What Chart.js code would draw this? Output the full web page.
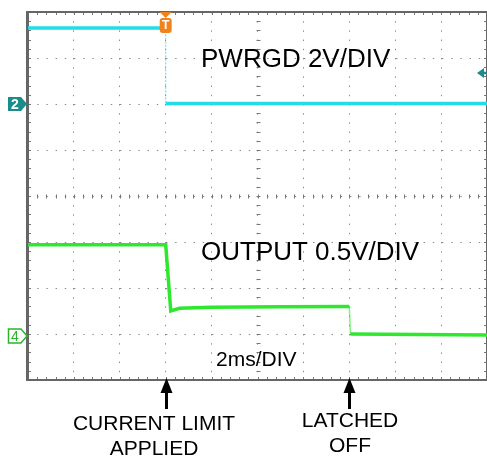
<!DOCTYPE html>
<html><head><meta charset="utf-8">
<script src="https://cdn.jsdelivr.net/npm/chart.js@4/dist/chart.umd.min.js"></script>
<style>html,body{margin:0;padding:0;background:#fff;overflow:hidden}#wrap{width:487px;height:456px;position:relative}</style>
</head><body><div id="wrap"><canvas id="c" width="487" height="456"></canvas></div>
<script>
// time axis: ms relative to trigger, 2 ms/DIV
const timeTicks = [-6, -4, -2, 0, 2, 4, 6, 8, 10, 12, 14];
// PWRGD channel (2 V/DIV), ground marker at division 6 from bottom
const pwrgdTime  = [-6, 0, 0, 14];
const pwrgdVolts = [3.3, 3.3, 0.02, 0.02];
// OUTPUT channel (0.5 V/DIV), ground marker at division 1 from bottom
const outputTime  = [-6, 0, 0.22, 0.6, 2, 5, 8, 8.05, 14];
const outputVolts = [0.97, 0.97, 0.25, 0.28, 0.29, 0.295, 0.30, 0.0, -0.01];
const pwrgdRange  = [-12, 4];
const outputRange = [-0.5, 3.5];
const labels = {pwrgd: 'PWRGD 2V/DIV', output: 'OUTPUT 0.5V/DIV', timebase: '2ms/DIV',
  limit: ['CURRENT LIMIT', 'APPLIED'], latched: ['LATCHED', 'OFF']};
const eventTimes = [0, 8];

const FONT = '"Liberation Sans", Arial, sans-serif';
const toPts = (xs, ys) => xs.map((x, i) => ({x, y: ys[i]}));

const scopePlugin = {
  id: 'scope',
  beforeDatasetsDraw(chart) {
    const {ctx, chartArea: a} = chart;
    const w = a.right - a.left, h = a.bottom - a.top;
    const dx = w / 50, dy = h / 40;
    ctx.save();
    ctx.strokeStyle = '#777';
    ctx.lineWidth = 1;
    ctx.beginPath();
    for (let i = 1; i < 50; i++) {
      const x = Math.round(a.left + i * dx) + 0.5;
      ctx.moveTo(x, a.top); ctx.lineTo(x, a.top + 3);
      ctx.moveTo(x, a.bottom); ctx.lineTo(x, a.bottom - 3);
    }
    for (let i = 1; i < 40; i++) {
      const y = Math.round(a.top + i * dy) + 0.5;
      ctx.moveTo(a.left, y); ctx.lineTo(a.left + 3, y);
      ctx.moveTo(a.right, y); ctx.lineTo(a.right - 3, y);
    }
    const cx = Math.round(a.left + w / 2) + 0.5, cy = Math.round(a.top + h / 2) + 0.5;
    for (let i = 1; i < 50; i++) {
      const x = Math.round(a.left + i * dx) + 0.5;
      ctx.moveTo(x, cy - 2); ctx.lineTo(x, cy + 2);
    }
    for (let i = 1; i < 40; i++) {
      const y = Math.round(a.top + i * dy) + 0.5;
      ctx.moveTo(cx - 2, y); ctx.lineTo(cx + 2, y);
    }
    ctx.stroke();
    ctx.strokeStyle = '#666';
    ctx.lineWidth = 2;
    ctx.strokeRect(a.left, a.top, w, h);
    ctx.lineWidth = 3;
    ctx.beginPath(); ctx.moveTo(a.left - 0.5, a.top - 1); ctx.lineTo(a.left - 0.5, a.bottom + 1); ctx.stroke();
    ctx.restore();
  },
  afterDraw(chart) {
    const {ctx, chartArea: a, scales} = chart;
    const x = scales.x;
    ctx.save();
    ctx.fillStyle = '#000';
    ctx.textBaseline = 'alphabetic';
    ctx.textAlign = 'left';
    ctx.font = '26px ' + FONT;
    ctx.fillText(labels.pwrgd, 201, 67);
    ctx.fillText(labels.output, 201, 260);
    ctx.font = '21px ' + FONT;
    ctx.fillText(labels.timebase, 216, 366);
    ctx.font = '21px ' + FONT;
    ctx.textAlign = 'center';
    const caps = [labels.limit, labels.latched];
    const capY = [[430, 455], [427, 452]];
    const capX = [154, 350];
    eventTimes.forEach((t, i) => {
      const px = Math.round(x.getPixelForValue(t)) + 0.5;
      ctx.strokeStyle = '#000'; ctx.lineWidth = 3;
      ctx.beginPath(); ctx.moveTo(px, 390); ctx.lineTo(px, 409); ctx.stroke();
      ctx.beginPath(); ctx.moveTo(px, 378); ctx.lineTo(px - 6, 393); ctx.lineTo(px + 6, 393); ctx.closePath();
      ctx.fillStyle = '#000'; ctx.fill();
      ctx.fillText(caps[i][0], capX[i], capY[i][0]);
      ctx.fillText(caps[i][1], capX[i], capY[i][1]);
    });
    // channel 2 marker (filled teal)
    const y2 = Math.round(scales.yP.getPixelForValue(0));
    ctx.fillStyle = '#1b8c8c';
    ctx.beginPath();
    ctx.moveTo(8, y2 - 7); ctx.lineTo(21, y2 - 7); ctx.lineTo(27, y2); ctx.lineTo(21, y2 + 7); ctx.lineTo(8, y2 + 7); ctx.closePath();
    ctx.fill();
    ctx.fillStyle = '#fff'; ctx.font = 'bold 14px ' + FONT; ctx.textAlign = 'center'; ctx.textBaseline = 'middle';
    ctx.fillText('2', 15, y2 + 1);
    // channel 4 marker (outlined green)
    const y4 = Math.round(scales.yO.getPixelForValue(0)) + 2;
    ctx.strokeStyle = '#2bb52b'; ctx.lineWidth = 1.5;
    ctx.beginPath();
    ctx.moveTo(8.5, y4 - 7); ctx.lineTo(21, y4 - 7); ctx.lineTo(27, y4); ctx.lineTo(21, y4 + 7); ctx.lineTo(8.5, y4 + 7); ctx.closePath();
    ctx.stroke();
    ctx.fillStyle = '#2bb52b'; ctx.font = '14px ' + FONT;
    ctx.fillText('4', 15, y4 + 1);
    // trigger marker
    const tx = x.getPixelForValue(0);
    ctx.fillStyle = '#f0831e';
    ctx.beginPath(); ctx.moveTo(tx - 6, a.top); ctx.lineTo(tx + 6, a.top); ctx.lineTo(tx, a.top + 6); ctx.closePath(); ctx.fill();
    ctx.beginPath();
    if (ctx.roundRect) ctx.roundRect(tx - 6, a.top + 6, 12, 15, 3); else ctx.rect(tx - 6, a.top + 6, 12, 15);
    ctx.fill();
    ctx.fillStyle = '#fff'; ctx.font = 'bold 12px ' + FONT;
    ctx.fillText('T', tx, a.top + 14);
    // right-side arrow
    ctx.fillStyle = '#1b8c8c'; ctx.strokeStyle = '#1b8c8c'; ctx.lineWidth = 2.5;
    ctx.beginPath(); ctx.moveTo(477, 73); ctx.lineTo(484, 68); ctx.lineTo(484, 78); ctx.closePath(); ctx.fill();
    ctx.beginPath(); ctx.moveTo(483, 73); ctx.lineTo(488, 73); ctx.stroke();
    ctx.restore();
  }
};

const edgeStyle = (thin, normal) => c => {
  const p0 = c.p0.parsed, p1 = c.p1.parsed;
  return (Math.abs(p1.x - p0.x) < 0.1) ? thin : normal;
};

new Chart(document.getElementById('c'), {
  type: 'line',
  data: {
    datasets: [
      {label: 'PWRGD', data: toPts(pwrgdTime, pwrgdVolts), yAxisID: 'yP',
       borderColor: '#22dde8', borderWidth: 3.5, pointRadius: 0, tension: 0,
       segment: {borderWidth: edgeStyle(1, 3.5), borderColor: edgeStyle('rgba(34,221,232,0.45)', '#22dde8'),
                 borderDash: edgeStyle([1.5, 2], [])}},
      {label: 'OUTPUT', data: toPts(outputTime, outputVolts), yAxisID: 'yO',
       borderColor: '#2ee82e', borderWidth: 3.5, pointRadius: 0, tension: 0,
       segment: {borderWidth: edgeStyle(1.5, 3.5), borderColor: edgeStyle('rgba(46,232,46,0.6)', '#2ee82e')}}
    ]
  },
  options: {
    responsive: false, animation: false, devicePixelRatio: 1,
    layout: {padding: {left: 28, top: 12, right: -1, bottom: 76}},
    plugins: {legend: {display: false}, tooltip: {enabled: false}},
    scales: {
      x: {type: 'linear', min: timeTicks[0], max: timeTicks[timeTicks.length - 1],
          afterBuildTicks: s => { s.ticks = timeTicks.map(v => ({value: v})); },
          ticks: {display: false}, border: {display: false, dash: [1.4, 7.8]},
          grid: {color: '#8a8a8a', lineWidth: 1, drawTicks: false}},
      yP: {type: 'linear', position: 'left', min: pwrgdRange[0], max: pwrgdRange[1],
           ticks: {display: false, stepSize: 2}, border: {display: false, dash: [1.4, 7.8]},
           grid: {color: '#8a8a8a', lineWidth: 1, drawTicks: false}},
      yO: {type: 'linear', display: false, min: outputRange[0], max: outputRange[1]}
    }
  },
  plugins: [scopePlugin]
});
</script>
</body></html>
